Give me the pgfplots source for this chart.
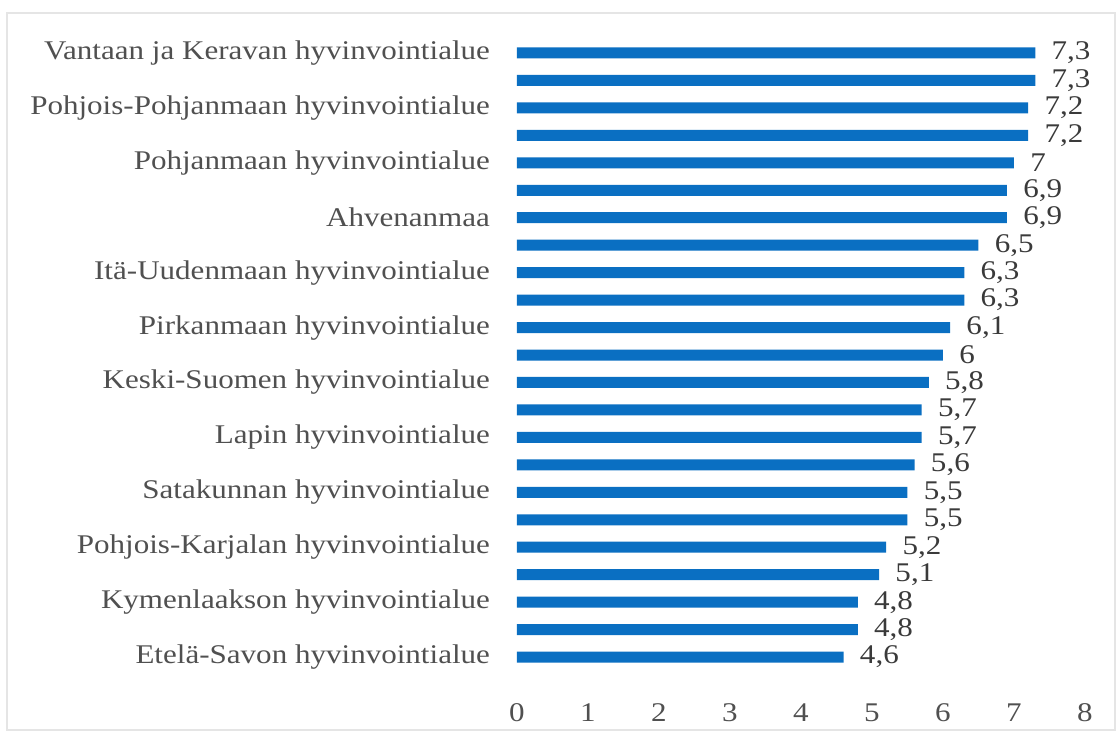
\documentclass[border=0pt]{standalone}
\usepackage{pgfplots}
\pgfplotsset{compat=1.18}
\usepackage{fontspec}
\setmainfont{Liberation Serif}[FakeStretch=1.15]
\definecolor{barblue}{HTML}{0A6FC2}
\definecolor{lbl}{HTML}{505050}
\definecolor{num}{HTML}{3A3A3A}
\begin{document}
\begin{tikzpicture}[x=1pt,y=1pt]
\useasboundingbox (-258.5,-27.75) rectangle (301,342.25);
\draw[black!10, line width=1.2pt] (-255,-22.75) rectangle (299,335.75);
\begin{axis}[at={(0,0)}, anchor=south west, scale only axis,
  width=284pt, height=329.5pt,
  xmin=0, xmax=8, ymin=-1, ymax=23, y dir=reverse,
  xbar, bar width=5.5pt,
  axis line style={draw=none}, tick style={draw=none}, major tick length=0pt,
  xtick={0,1,...,8},
  ytick={0,2,...,22},
  yticklabels={Vantaan ja Keravan hyvinvointialue,Pohjois-Pohjanmaan hyvinvointialue,Pohjanmaan hyvinvointialue,Ahvenanmaa,Itä-Uudenmaan hyvinvointialue,Pirkanmaan hyvinvointialue,Keski-Suomen hyvinvointialue,Lapin hyvinvointialue,Satakunnan hyvinvointialue,Pohjois-Karjalan hyvinvointialue,Kymenlaakson hyvinvointialue,Etelä-Savon hyvinvointialue},
  /pgf/number format/assume math mode=true,
  /pgf/number format/use comma,
  yticklabel style={font=\fontsize{13.5}{16}\selectfont, text=lbl, xshift=-10pt},
  xticklabel style={font=\fontsize{13.5}{16}\selectfont, text=lbl, yshift=-6pt},
  nodes near coords,
  nodes near coords style={font=\fontsize{13.5}{16}\selectfont, text=num, anchor=west, inner sep=0pt, xshift=8pt},
]
\addplot[fill=barblue, draw=none] coordinates {
(7.3,0) (7.3,1) (7.2,2) (7.2,3) (7,4) (6.9,5) (6.9,6) (6.5,7) (6.3,8) (6.3,9) (6.1,10) (6,11) (5.8,12) (5.7,13) (5.7,14) (5.6,15) (5.5,16) (5.5,17) (5.2,18) (5.1,19) (4.8,20) (4.8,21) (4.6,22)
};
\end{axis}
\end{tikzpicture}
\end{document}
